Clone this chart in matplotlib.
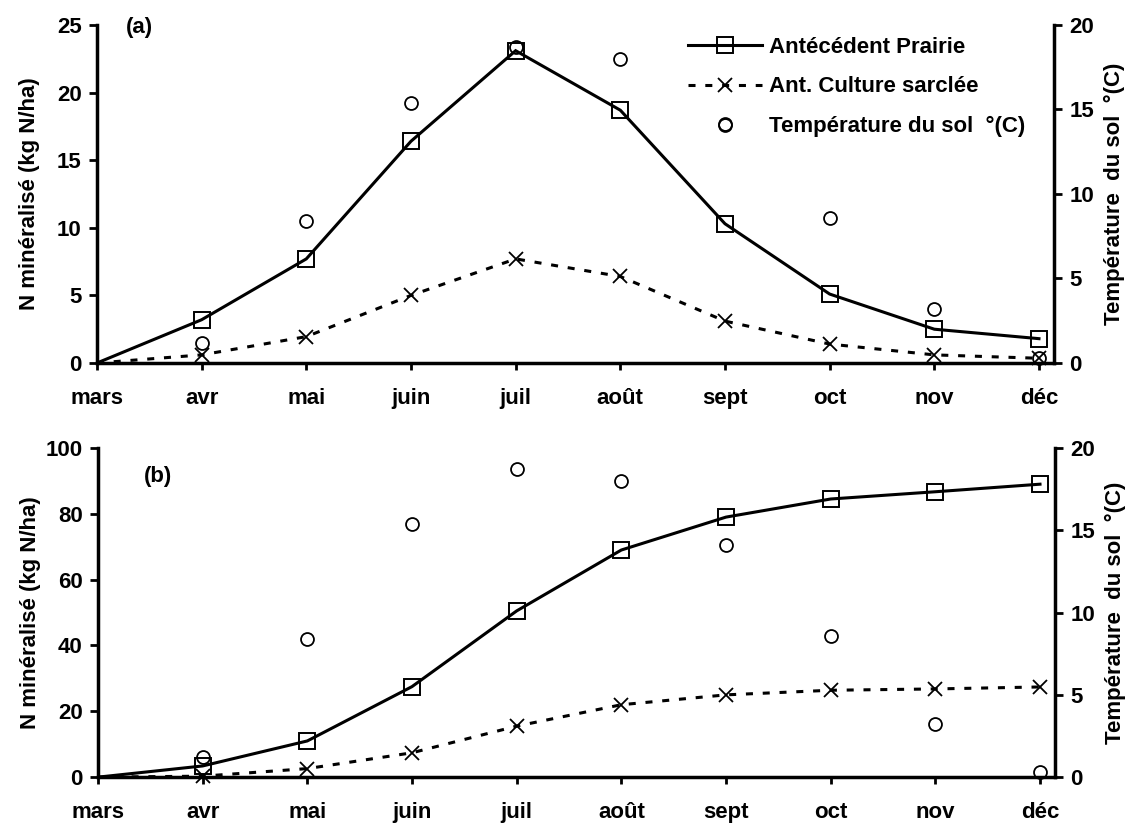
import numpy as np
import matplotlib
matplotlib.use("Agg")
import matplotlib.pyplot as plt
from matplotlib.lines import Line2D

plt.rcParams['font.family'] = ['Liberation Sans', 'DejaVu Sans']
plt.rcParams['font.weight'] = 'bold'

mois = ["mars", "avr", "mai", "juin", "juil", "août", "sept", "oct", "nov", "déc"]

# (a) N minéralisé par mois (kg N/ha)
prairie_a = [0, 3.2, 7.7, 16.4, 23.1, 18.7, 10.3, 5.1, 2.5, 1.8]
sarclee_a = [0, 0.6, 1.95, 5.0, 7.7, 6.4, 3.1, 1.4, 0.6, 0.35]

# (b) N minéralisé cumulé (kg N/ha)
prairie_b = [0, 3.4, 11, 27.5, 50.5, 69, 79, 84.5, 86.7, 89]
sarclee_b = [0, 0.3, 2.6, 7.4, 15.5, 22, 25, 26.4, 26.8, 27.4]

# température du sol °C (pas de mesure en mars)
temp_sol = [np.nan, 1.2, 8.4, 15.4, 18.7, 18.0, 14.1, 8.6, 3.2, 0.3]

noms = ["Antécédent Prairie", "Ant. Culture sarclée", "Température du sol  °(C)"]

FS = 16
LW = 2.2
TIRETS = (0, (2.3, 3.2))
MS_CARRE = 11.5
MS_CROIX = 10.5
MS_ROND = 9.3


def panneau(ax, prairie, sarclee, ymax, ystep, lettre, lettre_xy):
    x = np.arange(len(mois))
    # lignes depuis mars (0), marqueurs a partir d'avril
    ax.plot(x, prairie, color='black', lw=LW, solid_joinstyle='miter')
    ax.plot(x, sarclee, color='black', lw=LW, ls=TIRETS)
    ax.plot(x[1:], prairie[1:], ls='none', marker='s', ms=MS_CARRE, mfc='none',
            mec='black', mew=1.4, clip_on=False)
    ax.plot(x[1:], sarclee[1:], ls='none', marker='x', ms=MS_CROIX, mec='black',
            mew=1.3, clip_on=False)
    ax.set_xlim(0, 9.143)
    ax.set_ylim(0, ymax)
    ax.set_xticks(x)
    ax.set_xticklabels(mois)
    ax.set_yticks(np.arange(0, ymax + 1, ystep))
    ax.set_ylabel("N minéralisé (kg N/ha)", fontsize=FS, fontweight='bold')
    ax.yaxis.set_label_coords(-0.06, 0.5)
    ax.text(lettre_xy[0], lettre_xy[1], lettre, transform=ax.transAxes,
            fontsize=FS, fontweight='bold', va='center')

    ax2 = ax.twinx()
    ax2.plot(x, temp_sol, ls='none', marker='o', ms=MS_ROND, mfc='none', mec='black',
             mew=1.3, clip_on=False)
    ax2.set_ylim(0, 20)
    ax2.set_yticks(range(0, 21, 5))
    ax2.set_ylabel("Température  du sol  °(C)", fontsize=FS, fontweight='bold')
    ax2.yaxis.set_label_coords(1.052, 0.5)

    for s in ['top', 'right']:
        ax.spines[s].set_visible(False)
    for s in ['top', 'left', 'bottom']:
        ax2.spines[s].set_visible(False)
    for s in ['left', 'bottom']:
        ax.spines[s].set_linewidth(2.5)
    ax2.spines['right'].set_linewidth(2.5)

    ax.tick_params(axis='x', direction='out', length=5, width=2, pad=13, labelsize=FS)
    ax.tick_params(axis='y', direction='out', length=6, width=2, pad=5, labelsize=FS)
    ax2.tick_params(axis='y', direction='out', length=6, width=2, pad=5, labelsize=FS)
    return ax2


fig = plt.figure(figsize=(11.3, 8.25), dpi=100)
ax_a = fig.add_axes([0.0858, 0.56, 0.8469, 0.4097])
ax_b = fig.add_axes([0.0867, 0.058, 0.8469, 0.399])

ax2_a = panneau(ax_a, prairie_a, sarclee_a, 25, 5, "(a)", (0.030, 0.994))
ax2_b = panneau(ax_b, prairie_b, sarclee_b, 100, 20, "(b)", (0.048, 0.913))

poignees = [
    Line2D([], [], color='black', lw=LW, marker='s', ms=MS_CARRE, mfc='none', mew=1.4),
    Line2D([], [], color='black', lw=LW, ls=TIRETS, marker='x', ms=MS_CROIX, mew=1.3),
    Line2D([], [], color='black', ls='none', marker='o', ms=MS_ROND, mfc='none', mew=1.3),
]
ax2_a.legend(poignees, noms, loc='upper left', bbox_to_anchor=(0.618, 0.964),
             frameon=False, handlelength=3.33, handletextpad=0.32,
             labelspacing=0.82, borderpad=0, borderaxespad=0, numpoints=1,
             prop={'weight': 'bold', 'size': FS})

fig.savefig("out.png", dpi=100)
